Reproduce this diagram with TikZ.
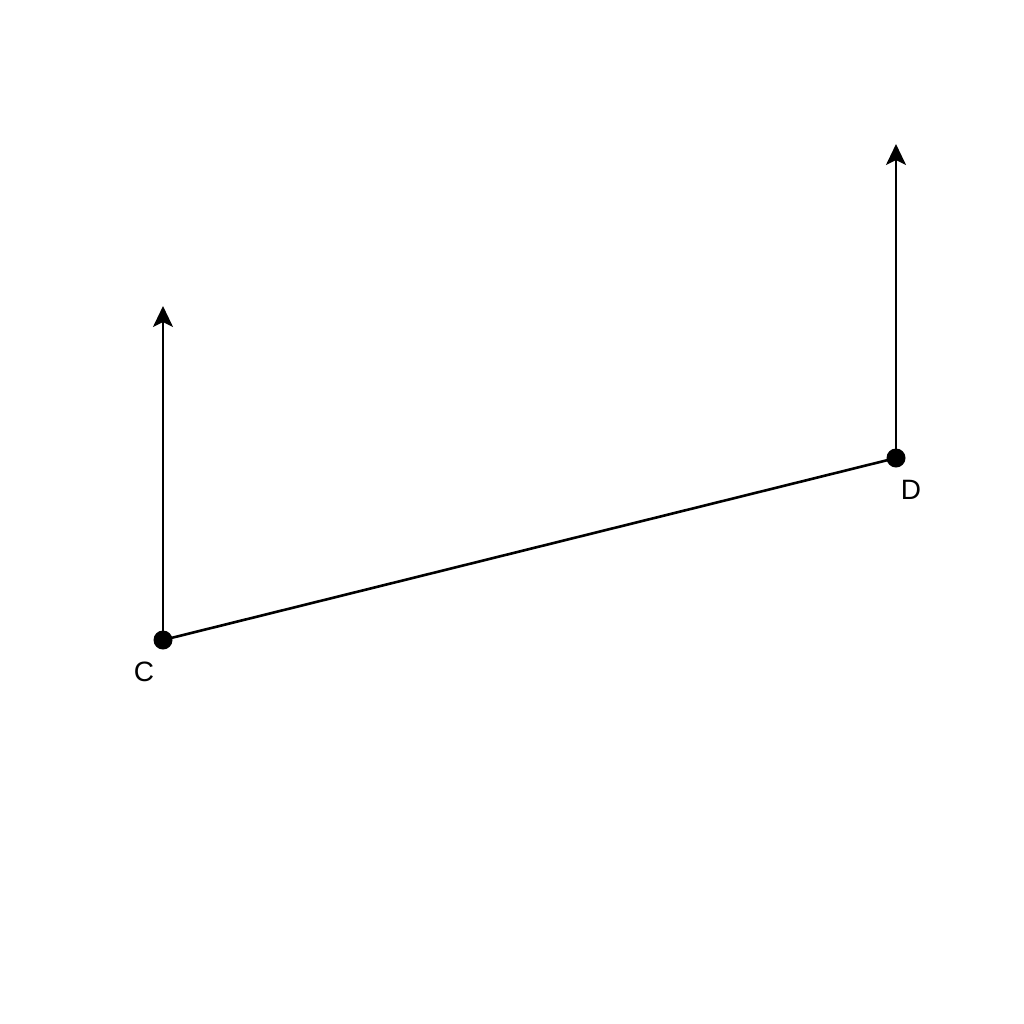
\documentclass[tikz,border=0pt]{standalone}
\usepackage{fontspec}
\setmainfont{Liberation Sans}
\usetikzlibrary{positioning, arrows.meta}

\begin{document}
\begin{tikzpicture}[x=0.5pt,y=0.5pt,yscale=-1,xscale=1,
  dot/.style={circle, fill=black, inner sep=0pt, minimum size=9.5pt},
  lbl/.style={inner sep=0.75pt, font=\fontsize{14}{16}\selectfont},
  upvec/.style={line width=1.3pt, -{Stealth[length=10.5pt,width=10pt,inset=2.5pt]}}]
\useasboundingbox (0,0) rectangle (1024,1024);

%Points
\node [dot] (C) at (163,640) {};
\node [dot] (D) at (896,458) {};
\coordinate (Ctop) at (163,306);
\coordinate (Dtop) at (896,144);

%Straight Lines
\draw [line width=1.3pt] (C.center) -- (D.center);
\draw [upvec] (C.center) -- (Ctop);
\draw [upvec] (D.center) -- (Dtop);

% Text Node
\node [lbl] (Clbl) at (144,672) {C};
% Text Node
\node [lbl] (Dlbl) at (911,490) {D};
\end{tikzpicture}
\end{document}
